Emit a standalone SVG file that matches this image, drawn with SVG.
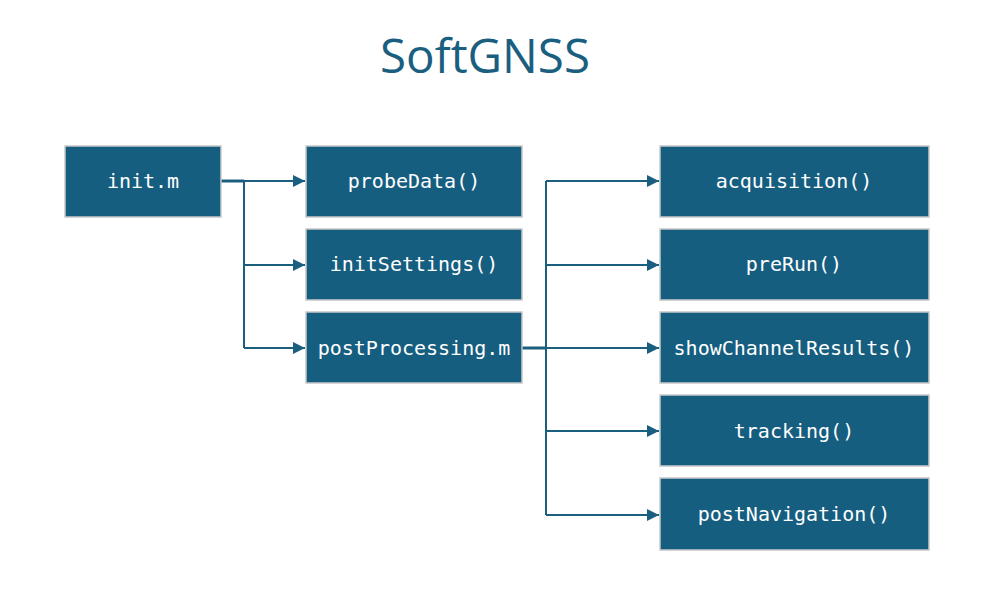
<svg xmlns="http://www.w3.org/2000/svg" width="995" height="601" viewBox="0 0 995 601">
<defs>
<style>
.box{fill:#165e80;stroke:#c8c8c8;stroke-width:1.5}
.lbl{font-family:"DejaVu Sans Mono","Liberation Mono",monospace;font-size:20px;fill:#ffffff;text-anchor:middle}
.ln{fill:none;stroke:#1b5f80;stroke-width:2}
.th{fill:none;stroke:#1b5f80;stroke-width:3}
</style>
<marker id="ah" viewBox="0 0 10 10" refX="10" refY="5" markerWidth="12" markerHeight="12" markerUnits="userSpaceOnUse" orient="auto"><path d="M0,0 L10,5 L0,10 z" fill="#1b5f80"/></marker>
</defs>
<rect width="995" height="601" fill="#ffffff"/>
<text x="485" y="73" font-family="'Open Sans','Noto Sans',sans-serif" font-size="47.5" fill="#1a5e80" text-anchor="middle">SoftGNSS</text>
<g id="connectors">
<path class="th" d="M221,181 H244"/>
<path class="ln" d="M244,181 H305" marker-end="url(#ah)"/>
<path class="ln" d="M244,181 V348"/>
<path class="ln" d="M244,265 H305" marker-end="url(#ah)"/>
<path class="ln" d="M244,348 H305" marker-end="url(#ah)"/>
<path class="th" d="M522,348 H546"/>
<path class="ln" d="M546,181 V515"/>
<path class="ln" d="M546,181 H659" marker-end="url(#ah)"/>
<path class="ln" d="M546,265 H659" marker-end="url(#ah)"/>
<path class="ln" d="M546,348 H659" marker-end="url(#ah)"/>
<path class="ln" d="M546,431 H659" marker-end="url(#ah)"/>
<path class="ln" d="M546,515 H659" marker-end="url(#ah)"/>
</g>
<g id="init"><rect class="box" x="65" y="146" width="156" height="71"/><text class="lbl" x="143" y="188">init.m</text></g>
<g id="probeData"><rect class="box" x="306" y="146" width="216" height="71"/><text class="lbl" x="414" y="188">probeData()</text></g>
<g id="initSettings"><rect class="box" x="306" y="229" width="216" height="71"/><text class="lbl" x="414" y="271">initSettings()</text></g>
<g id="postProcessing"><rect class="box" x="306" y="312" width="216" height="71"/><text class="lbl" x="414" y="355">postProcessing.m</text></g>
<g id="acquisition"><rect class="box" x="660" y="146" width="269" height="71"/><text class="lbl" x="794" y="188">acquisition()</text></g>
<g id="preRun"><rect class="box" x="660" y="229" width="269" height="71"/><text class="lbl" x="794" y="271">preRun()</text></g>
<g id="showChannelResults"><rect class="box" x="660" y="312" width="269" height="71"/><text class="lbl" x="794" y="355">showChannelResults()</text></g>
<g id="tracking"><rect class="box" x="660" y="395" width="269" height="71"/><text class="lbl" x="794" y="438">tracking()</text></g>
<g id="postNavigation"><rect class="box" x="660" y="478" width="269" height="72"/><text class="lbl" x="794" y="521">postNavigation()</text></g>
</svg>
